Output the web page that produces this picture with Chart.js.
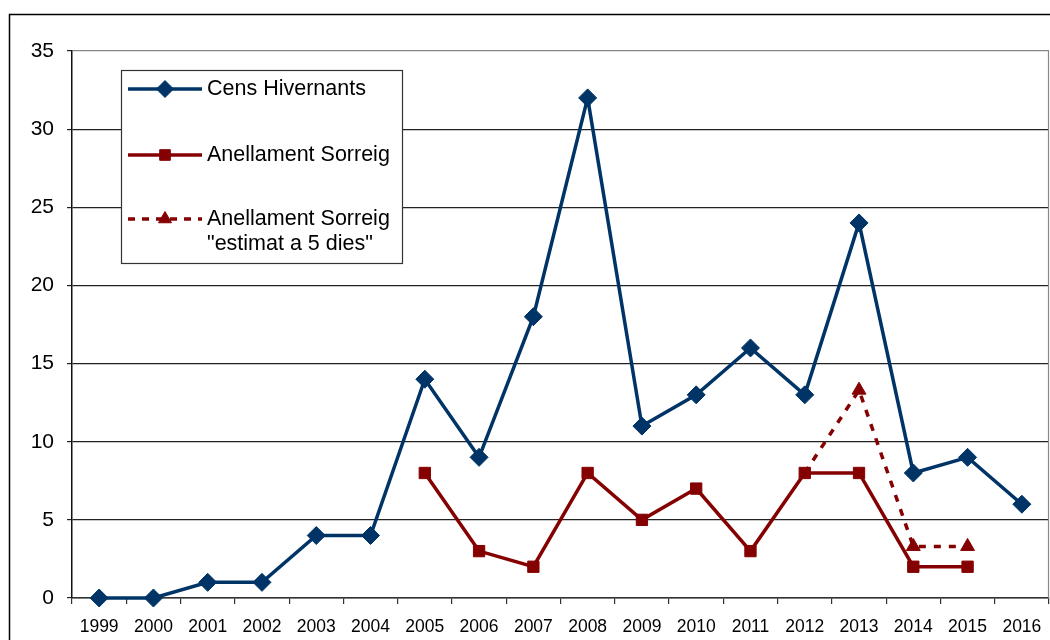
<!DOCTYPE html>
<html>
<head>
<meta charset="utf-8">
<script src="https://cdn.jsdelivr.net/npm/chart.js@4/dist/chart.umd.min.js"></script>
<style>
html,body{margin:0;padding:0;background:#fff;}
#wrap{width:1050px;height:640px;position:relative;}
</style>
</head>
<body>
<div id="wrap"><canvas id="c" width="1050" height="640"></canvas></div>
<script>
const years = ['1999','2000','2001','2002','2003','2004','2005','2006','2007','2008','2009','2010','2011','2012','2013','2014','2015','2016'];
const censHivernants = [0,0,1,1,4,4,14,9,18,32,11,13,16,13,24,8,9,6];
const anellamentSorreig = [null,null,null,null,null,null,8,3,2,8,5,7,3,8,8,2,2,null];
const anellamentEstimat = [null,null,null,null,null,null,null,null,null,null,null,null,null,8,13.3,3.3,3.3,null];
const legendLabels = ['Cens Hivernants','Anellament Sorreig',['Anellament Sorreig','"estimat a 5 dies"']];
const yTicks = [0,5,10,15,20,25,30,35];

const BLUE = '#003466';
const RED = '#850000';
const FONT = '"Liberation Sans", Arial, sans-serif';

const framePlugin = {
  id: 'frame',
  beforeDraw(chart) {
    const ctx = chart.ctx;
    ctx.save();
    ctx.fillStyle = '#fff';
    ctx.fillRect(0, 0, chart.width, chart.height);
    ctx.restore();
  },
  afterDraw(chart) {
    const ctx = chart.ctx;
    const a = chart.chartArea;
    ctx.save();
    ctx.strokeStyle = '#000';
    ctx.lineWidth = 1.5;
    ctx.strokeRect(9.5, 14.5, 1200, 800);
    ctx.strokeStyle = '#888';
    ctx.lineWidth = 1.2;
    ctx.beginPath();
    ctx.moveTo(a.right - 0.5, a.top);
    ctx.lineTo(a.right - 0.5, a.bottom);
    ctx.stroke();
    const bx = 121.5, by = 70.5, bw = 281, bh = 193;
    ctx.fillStyle = '#fff';
    ctx.fillRect(bx, by, bw, bh);
    ctx.strokeStyle = '#333';
    ctx.lineWidth = 1.2;
    ctx.strokeRect(bx, by, bw, bh);
    const ds = chart.data.datasets;
    const rows = [89, 155, 219];
    const radii = [8.5, 7.5, 7.5];
    const x0 = 128, x1 = 202, mx = 165, tx = 207;
    ctx.font = '21.5px ' + FONT;
    ctx.textBaseline = 'middle';
    ctx.textAlign = 'left';
    for (let i = 0; i < 3; i++) {
      const y = rows[i];
      ctx.strokeStyle = ds[i].borderColor;
      ctx.lineWidth = 3.5;
      ctx.setLineDash(i === 2 ? [7, 7] : []);
      ctx.beginPath();
      ctx.moveTo(x0, y);
      ctx.lineTo(x1, y);
      ctx.stroke();
      ctx.setLineDash([]);
      ctx.fillStyle = ds[i].borderColor;
      ctx.strokeStyle = ds[i].borderColor;
      ctx.lineWidth = 1;
      Chart.helpers.drawPoint(ctx, {pointStyle: ds[i].pointStyle, radius: radii[i], borderWidth: 1, rotation: 0}, mx, y);
      ctx.fillStyle = '#000';
      const lab = legendLabels[i];
      if (Array.isArray(lab)) {
        lab.forEach((l, k) => ctx.fillText(l, tx, y + k * 25));
      } else {
        ctx.fillText(lab, tx, y);
      }
    }
    ctx.restore();
  }
};

new Chart(document.getElementById('c'), {
  type: 'line',
  data: {
    labels: years,
    datasets: [
      {
        label: legendLabels[0],
        data: censHivernants,
        borderColor: BLUE,
        backgroundColor: BLUE,
        borderWidth: 3.5,
        pointStyle: 'rectRot',
        pointRadius: 9,
        pointBorderWidth: 1,
        pointBackgroundColor: BLUE,
        pointBorderColor: BLUE,
        tension: 0,
        spanGaps: false,
        clip: false
      },
      {
        label: legendLabels[1],
        data: anellamentSorreig,
        borderColor: RED,
        backgroundColor: RED,
        borderWidth: 3.5,
        pointStyle: 'rect',
        pointRadius: 8,
        pointBorderWidth: 1,
        pointBackgroundColor: RED,
        pointBorderColor: RED,
        tension: 0,
        spanGaps: false,
        clip: false
      },
      {
        label: 'Anellament Sorreig "estimat a 5 dies"',
        data: anellamentEstimat,
        borderColor: RED,
        backgroundColor: RED,
        borderWidth: 3.5,
        borderDash: [7, 8],
        pointStyle: 'triangle',
        pointRadius: (c) => c.dataIndex === 13 ? 0 : 8,
        pointBorderWidth: 1,
        pointBackgroundColor: RED,
        pointBorderColor: RED,
        tension: 0,
        spanGaps: false,
        clip: false
      }
    ]
  },
  options: {
    responsive: false,
    animation: false,
    devicePixelRatio: 1,
    layout: { autoPadding: false, padding: { top: 51, right: 1, left: 0, bottom: 0 } },
    plugins: {
      legend: { display: false },
      tooltip: { enabled: false }
    },
    scales: {
      x: {
        type: 'category',
        offset: true,
        afterFit(s) { s.height = 42; s.paddingLeft = 0; s.paddingRight = 0; },
        grid: {
          offset: true,
          drawOnChartArea: false,
          drawTicks: true,
          tickLength: 6,
          tickColor: '#333',
          lineWidth: 1.2
        },
        border: { display: true, color: '#333', width: 1.5 },
        ticks: {
          color: '#000',
          font: { family: FONT, size: 17.5 },
          padding: 13,
          maxRotation: 0,
          autoSkip: false
        }
      },
      y: {
        min: 0,
        max: 35,
        afterFit(s) { s.width = 72; },
        afterBuildTicks(s) { s.ticks = yTicks.map(v => ({ value: v })); },
        grid: {
          color: (c) => c.tick && c.tick.value === 35 ? '#888' : '#222',
          lineWidth: 1.2,
          drawTicks: true,
          tickLength: 5,
          tickColor: '#222'
        },
        border: { display: true, color: '#111', width: 1.5 },
        ticks: {
          color: '#000',
          font: { family: FONT, size: 21 },
          padding: 13,
          stepSize: 5
        }
      }
    }
  },
  plugins: [framePlugin]
});
</script>
</body>
</html>
